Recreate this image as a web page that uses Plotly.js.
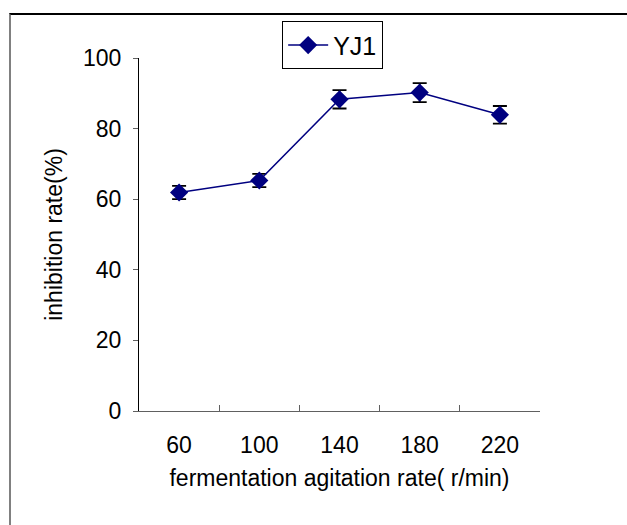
<!DOCTYPE html>
<html>
<head>
<meta charset="utf-8">
<script src="https://cdn.plot.ly/plotly-3.0.1.min.js"></script>
<style>
html, body { margin: 0; padding: 0; background: #ffffff; }
#wrap { position: relative; width: 627px; height: 525px; overflow: hidden; }
#chart { position: absolute; left: 0; top: 0; width: 627px; height: 525px; }
#frame { position: absolute; left: 9px; top: 13px; width: 640px; height: 540px;
  border-top: 2px solid #000000; border-left: 2px solid #808080; pointer-events: none; }
</style>
</head>
<body>
<div id="wrap">
  <div id="chart"></div>
  <div id="frame"></div>
</div>
<script>
const categories = ["60", "100", "140", "180", "220"];
const inhibitionRate = [61.9, 65.3, 88.3, 90.2, 83.9];
const errorValues = [1.9, 1.9, 2.6, 2.7, 2.5];
const seriesName = "YJ1";
const yTickValues = [0, 20, 40, 60, 80, 100];

const FONT = "Liberation Sans, Arial, sans-serif";

const trace = {
  type: "scatter",
  mode: "lines+markers",
  name: seriesName,
  x: categories,
  y: inhibitionRate,
  line: { color: "#000080", width: 1.5 },
  marker: { symbol: "diamond", size: 14, color: "#000080" },
  error_y: { type: "data", array: errorValues, visible: true, color: "#000000", thickness: 1.8, width: 7 }
};

const layout = {
  width: 627,
  height: 525,
  margin: { l: 139, r: 87, t: 58, b: 114 },
  paper_bgcolor: "#ffffff",
  plot_bgcolor: "#ffffff",
  font: { family: FONT, size: 23, color: "#000000" },
  showlegend: true,
  legend: {
    x: 0.357, y: 1.104, xanchor: "left", yanchor: "top",
    bordercolor: "#000000", borderwidth: 1, bgcolor: "#ffffff",
    font: { family: FONT, size: 25, color: "#000000" },
    itemwidth: 40
  },
  xaxis: {
    type: "category",
    range: [-0.5, 4.5],
    tickson: "boundaries",
    ticks: "inside",
    ticklen: 6,
    tickcolor: "#606060",
    showline: true,
    linecolor: "#606060",
    linewidth: 1,
    showgrid: false,
    zeroline: false,
    ticklabelstandoff: 13,
    tickfont: { family: FONT, size: 23, color: "#000000" },
    title: { text: "fermentation agitation rate( r/min)", font: { family: FONT, size: 23, color: "#000000" }, standoff: 13 }
  },
  yaxis: {
    range: [0, 100],
    tickvals: yTickValues,
    ticks: "outside",
    ticklen: 5,
    tickcolor: "#606060",
    showline: true,
    linecolor: "#000000",
    linewidth: 1,
    showgrid: false,
    zeroline: false,
    ticklabelstandoff: 7,
    tickfont: { family: FONT, size: 23, color: "#000000" },
    title: { text: "inhibition rate(%)", font: { family: FONT, size: 23, color: "#000000" }, standoff: 13 }
  }
};

Plotly.newPlot("chart", [trace], layout, { displayModeBar: false, staticPlot: true });
</script>
</body>
</html>
